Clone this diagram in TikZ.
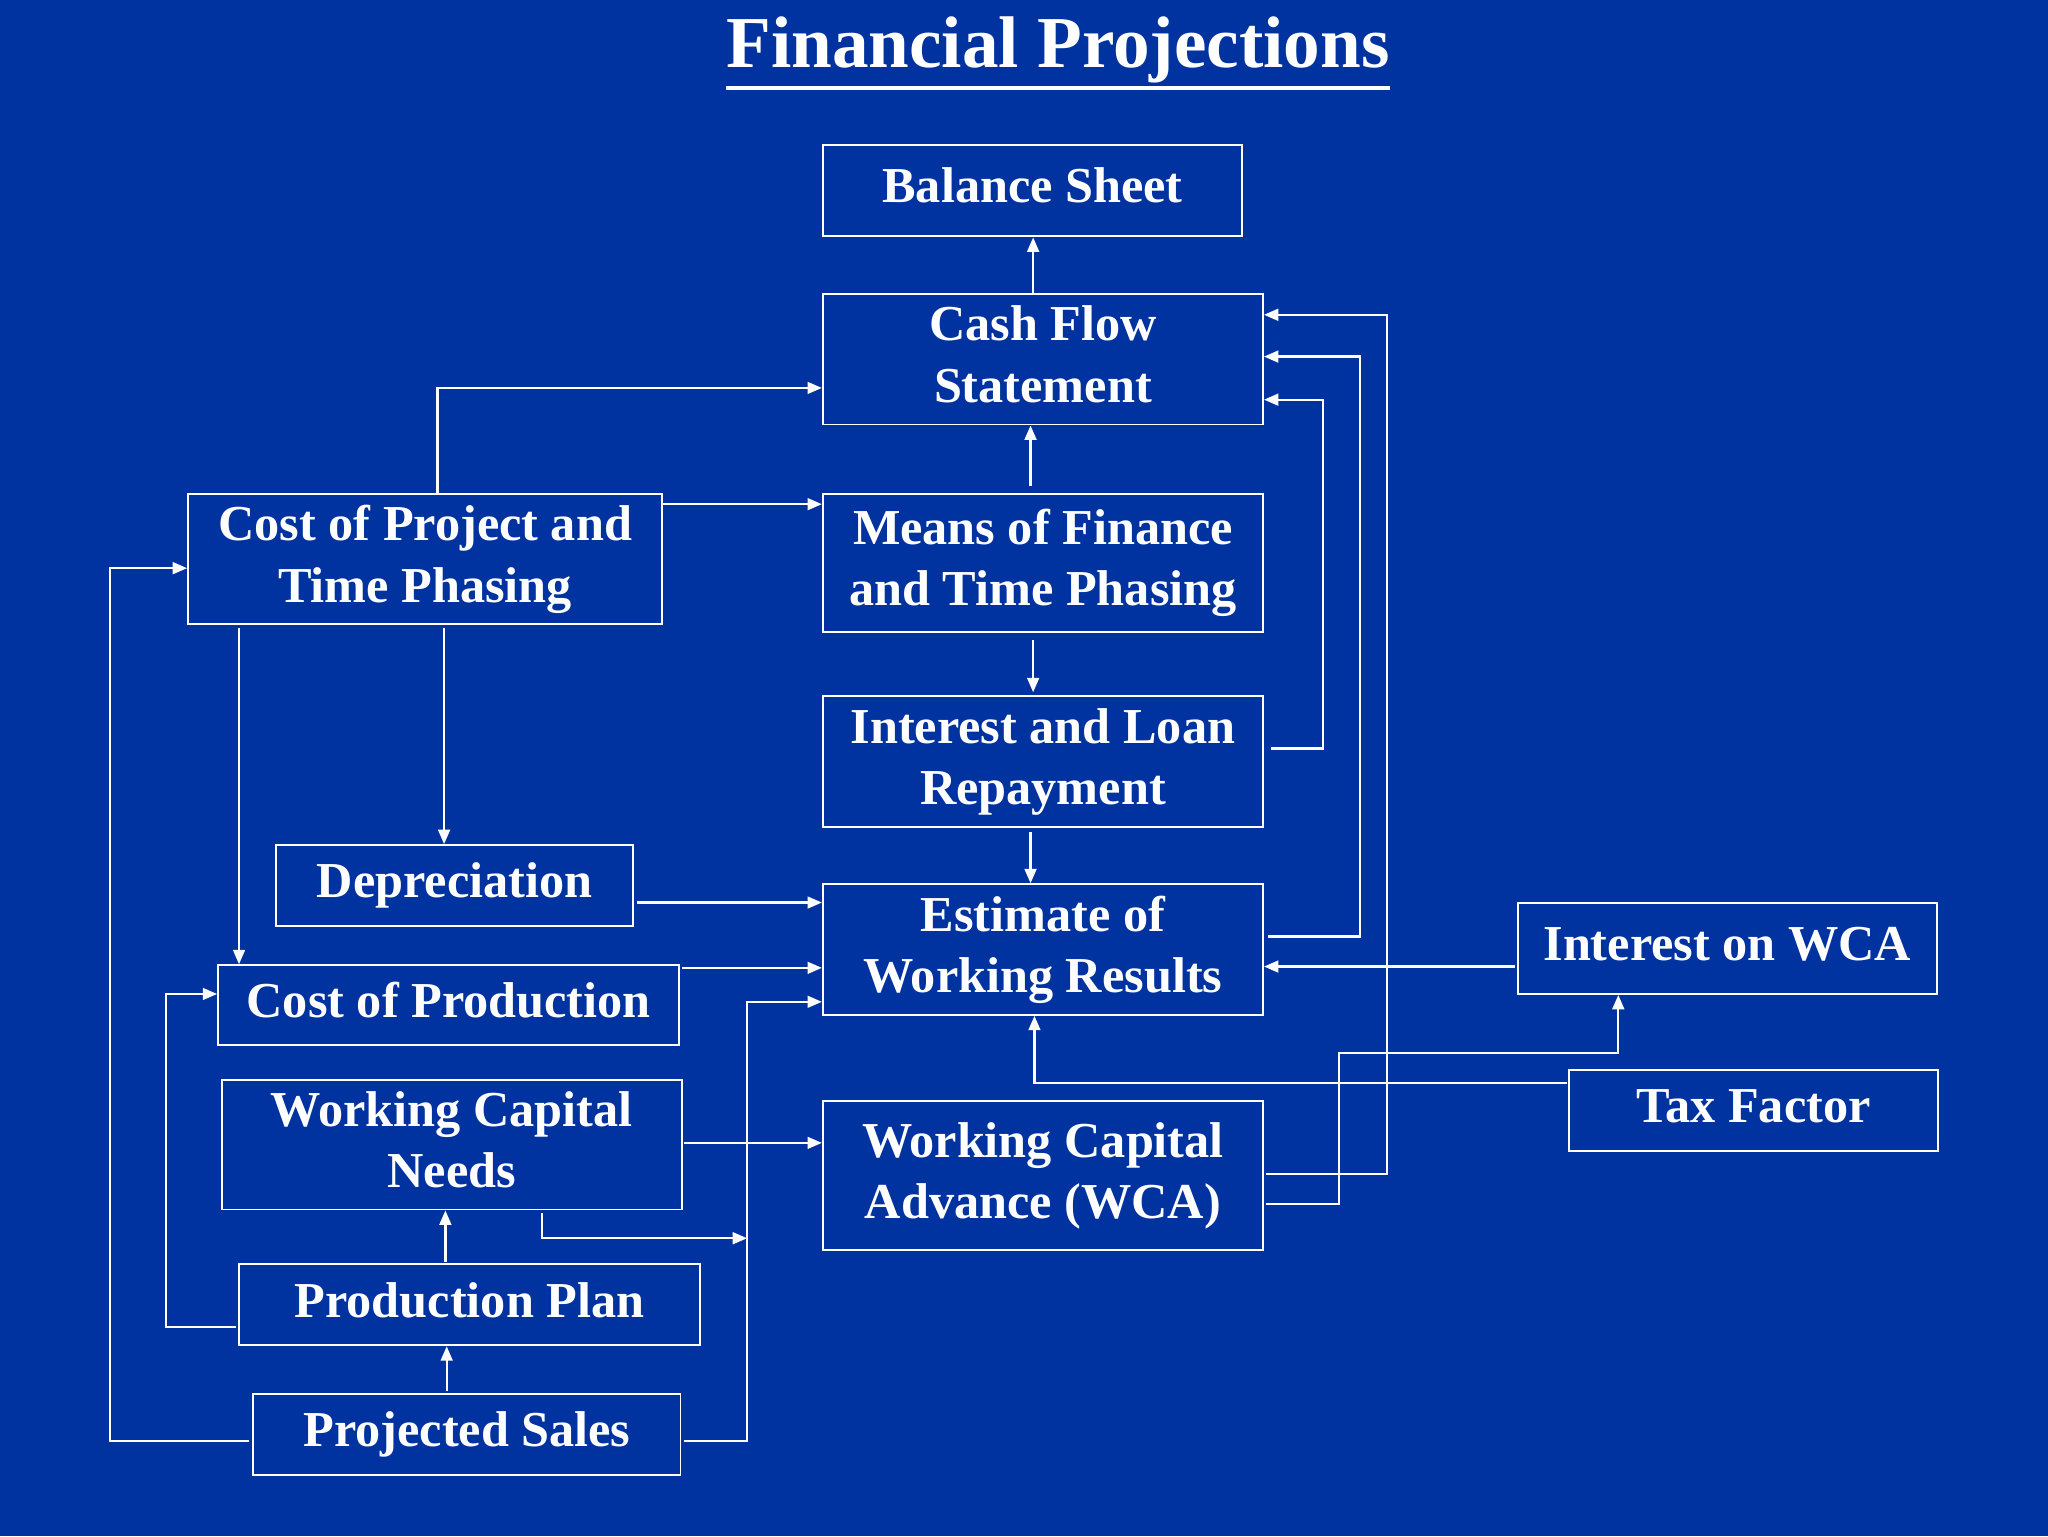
\documentclass[tikz,border=0pt]{standalone}
\usepackage{fontspec}
\setmainfont{Liberation Serif}
\usetikzlibrary{arrows.meta,calc}
\definecolor{bg}{HTML}{0033A0}
\begin{document}
\begin{tikzpicture}[x=1pt,y=-1pt,
  box/.style={draw=white,line width=1.5pt,text=white,font=\fontsize{38.5}{47}\selectfont\bfseries,align=center,inner sep=0pt},
  conn/.style={draw=white,line width=1.8pt,-{Triangle[length=11pt,width=9pt]}},
  plain/.style={draw=white,line width=1.8pt}]
\fill[bg] (0,0) rectangle (1568,1176);
\useasboundingbox (0,0) rectangle (1568,1176);
\node[text=white,font=\fontsize{56}{62}\selectfont\bfseries,inner sep=0pt] (title) at (810,38) {Financial Projections};
\draw[white,line width=3pt] ($(title.south west)+(0,4)$) -- ($(title.south east)+(0,4)$);
\newcommand\bx[6]{\node[box,minimum width=#4-#2,minimum height=#5-#3] (#1) at ({(#2+#4)/2},{(#3+#5)/2}) {\raisebox{-4pt}{\begin{tabular}{@{}c@{}}#6\end{tabular}}};}
\bx{bs}{630}{111}{951}{181}{Balance Sheet}
\bx{cf}{630}{225}{967}{325}{Cash Flow\\Statement}
\bx{cp}{144}{378}{507}{478}{Cost of Project and\\Time Phasing}
\bx{mf}{630}{378}{967}{484}{Means of Finance\\and Time Phasing}
\bx{il}{630}{533}{967}{633}{Interest and Loan\\Repayment}
\bx{dp}{211}{647}{485}{709}{Depreciation}
\bx{ew}{630}{677}{967}{777}{Estimate of\\Working Results}
\bx{iw}{1162}{691}{1483}{761}{Interest on WCA}
\bx{cpr}{167}{739}{520}{800}{Cost of Production}
\bx{wn}{170}{827}{522}{926}{Working Capital\\Needs}
\bx{wca}{630}{843}{967}{957}{Working Capital\\Advance (WCA)}
\bx{tf}{1201}{819}{1484}{881}{Tax Factor}
\bx{pp}{183}{968}{536}{1030}{Production Plan}
\bx{ps}{194}{1067}{521}{1129}{Projected Sales}
\coordinate (j1) at (572,948);
\draw[conn] (cf.north -| 791,0) -- (bs.south -| 791,0);
\draw[conn] (789,372) -- (cf.south -| 789,0);
\draw[conn] (791,490) -- (791,530);
\draw[conn] (789,637) -- (ew.north -| 789,0);
\draw[conn] (973,573) -- (1013,573) -- (1013,306) -- (cf.east |- 0,306);
\draw[conn] (971,717) -- (1041,717) -- (1041,273) -- (cf.east |- 0,273);
\draw[conn] (969,899) -- (1062,899) -- (1062,241) -- (cf.east |- 0,241);
\draw[conn] (969,922) -- (1025,922) -- (1025,806) -- (1239,806) -- (iw.south -| 1239,0);
\draw[conn] (1160,740) -- (ew.east |- 0,740);
\draw[conn] (1200,829) -- (792,829) -- (ew.south -| 792,0);
\draw[conn] (cp.north -| 335,0) -- (335,297) -- (cf.west |- 0,297);
\draw[conn] (cp.east |- 0,386) -- (mf.west |- 0,386);
\draw[conn] (340,481) -- (dp.north -| 340,0);
\draw[conn] (183,481) -- (cpr.north -| 183,0);
\draw[conn] (488,691) -- (ew.west |- 0,691);
\draw[conn] (522,741) -- (ew.west |- 0,741);
\draw[conn] (524,875) -- (wca.west |- 0,875);
\draw[conn] (415,929) -- (415,948) -- (j1);
\draw[conn] (524,1103) -- (572,1103) -- (572,767) -- (ew.west |- 0,767);
\draw[conn] (341,966) -- (wn.south -| 341,0);
\draw[conn] (342,1065) -- (pp.south -| 342,0);
\draw[conn] (181,1016) -- (127,1016) -- (127,761) -- (cpr.west |- 0,761);
\draw[conn] (191,1103) -- (84,1103) -- (84,435) -- (cp.west |- 0,435);
\end{tikzpicture}
\end{document}
